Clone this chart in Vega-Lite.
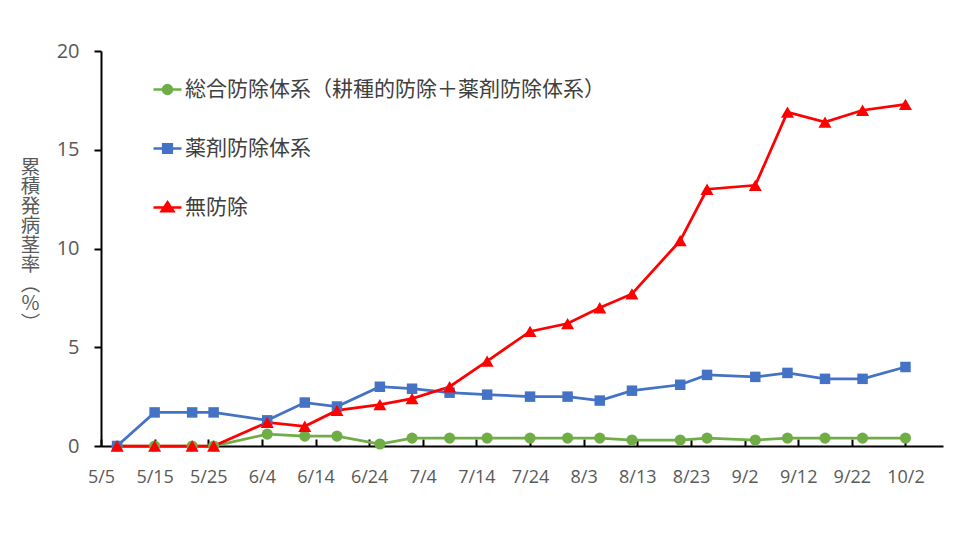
{
  "$schema": "https://vega.github.io/schema/vega-lite/v6.json",
  "width": 842,
  "height": 395,
  "autosize": {"type": "none"},
  "padding": {"left": 101, "top": 51, "right": 17, "bottom": 94},
  "background": "white",
  "config": {"view": {"stroke": null}, "font": "Open Sans"},
  "datasets": {
    "d": [
      {"date": "2020-05-08", "series": "総合防除体系（耕種的防除＋薬剤防除体系）", "value": 0},
      {"date": "2020-05-15", "series": "総合防除体系（耕種的防除＋薬剤防除体系）", "value": 0},
      {"date": "2020-05-22", "series": "総合防除体系（耕種的防除＋薬剤防除体系）", "value": 0},
      {"date": "2020-05-26", "series": "総合防除体系（耕種的防除＋薬剤防除体系）", "value": 0},
      {"date": "2020-06-05", "series": "総合防除体系（耕種的防除＋薬剤防除体系）", "value": 0.6},
      {"date": "2020-06-12", "series": "総合防除体系（耕種的防除＋薬剤防除体系）", "value": 0.5},
      {"date": "2020-06-18", "series": "総合防除体系（耕種的防除＋薬剤防除体系）", "value": 0.5},
      {"date": "2020-06-26", "series": "総合防除体系（耕種的防除＋薬剤防除体系）", "value": 0.1},
      {"date": "2020-07-02", "series": "総合防除体系（耕種的防除＋薬剤防除体系）", "value": 0.4},
      {"date": "2020-07-09", "series": "総合防除体系（耕種的防除＋薬剤防除体系）", "value": 0.4},
      {"date": "2020-07-16", "series": "総合防除体系（耕種的防除＋薬剤防除体系）", "value": 0.4},
      {"date": "2020-07-24", "series": "総合防除体系（耕種的防除＋薬剤防除体系）", "value": 0.4},
      {"date": "2020-07-31", "series": "総合防除体系（耕種的防除＋薬剤防除体系）", "value": 0.4},
      {"date": "2020-08-06", "series": "総合防除体系（耕種的防除＋薬剤防除体系）", "value": 0.4},
      {"date": "2020-08-12", "series": "総合防除体系（耕種的防除＋薬剤防除体系）", "value": 0.3},
      {"date": "2020-08-21", "series": "総合防除体系（耕種的防除＋薬剤防除体系）", "value": 0.3},
      {"date": "2020-08-26", "series": "総合防除体系（耕種的防除＋薬剤防除体系）", "value": 0.4},
      {"date": "2020-09-04", "series": "総合防除体系（耕種的防除＋薬剤防除体系）", "value": 0.3},
      {"date": "2020-09-10", "series": "総合防除体系（耕種的防除＋薬剤防除体系）", "value": 0.4},
      {"date": "2020-09-17", "series": "総合防除体系（耕種的防除＋薬剤防除体系）", "value": 0.4},
      {"date": "2020-09-24", "series": "総合防除体系（耕種的防除＋薬剤防除体系）", "value": 0.4},
      {"date": "2020-10-02", "series": "総合防除体系（耕種的防除＋薬剤防除体系）", "value": 0.4},
      {"date": "2020-05-08", "series": "薬剤防除体系", "value": 0},
      {"date": "2020-05-15", "series": "薬剤防除体系", "value": 1.7},
      {"date": "2020-05-22", "series": "薬剤防除体系", "value": 1.7},
      {"date": "2020-05-26", "series": "薬剤防除体系", "value": 1.7},
      {"date": "2020-06-05", "series": "薬剤防除体系", "value": 1.3},
      {"date": "2020-06-12", "series": "薬剤防除体系", "value": 2.2},
      {"date": "2020-06-18", "series": "薬剤防除体系", "value": 2.0},
      {"date": "2020-06-26", "series": "薬剤防除体系", "value": 3.0},
      {"date": "2020-07-02", "series": "薬剤防除体系", "value": 2.9},
      {"date": "2020-07-09", "series": "薬剤防除体系", "value": 2.7},
      {"date": "2020-07-16", "series": "薬剤防除体系", "value": 2.6},
      {"date": "2020-07-24", "series": "薬剤防除体系", "value": 2.5},
      {"date": "2020-07-31", "series": "薬剤防除体系", "value": 2.5},
      {"date": "2020-08-06", "series": "薬剤防除体系", "value": 2.3},
      {"date": "2020-08-12", "series": "薬剤防除体系", "value": 2.8},
      {"date": "2020-08-21", "series": "薬剤防除体系", "value": 3.1},
      {"date": "2020-08-26", "series": "薬剤防除体系", "value": 3.6},
      {"date": "2020-09-04", "series": "薬剤防除体系", "value": 3.5},
      {"date": "2020-09-10", "series": "薬剤防除体系", "value": 3.7},
      {"date": "2020-09-17", "series": "薬剤防除体系", "value": 3.4},
      {"date": "2020-09-24", "series": "薬剤防除体系", "value": 3.4},
      {"date": "2020-10-02", "series": "薬剤防除体系", "value": 4.0},
      {"date": "2020-05-08", "series": "無防除", "value": 0},
      {"date": "2020-05-15", "series": "無防除", "value": 0},
      {"date": "2020-05-22", "series": "無防除", "value": 0},
      {"date": "2020-05-26", "series": "無防除", "value": 0},
      {"date": "2020-06-05", "series": "無防除", "value": 1.2},
      {"date": "2020-06-12", "series": "無防除", "value": 1.0},
      {"date": "2020-06-18", "series": "無防除", "value": 1.8},
      {"date": "2020-06-26", "series": "無防除", "value": 2.1},
      {"date": "2020-07-02", "series": "無防除", "value": 2.4},
      {"date": "2020-07-09", "series": "無防除", "value": 3.0},
      {"date": "2020-07-16", "series": "無防除", "value": 4.3},
      {"date": "2020-07-24", "series": "無防除", "value": 5.8},
      {"date": "2020-07-31", "series": "無防除", "value": 6.2},
      {"date": "2020-08-06", "series": "無防除", "value": 7.0},
      {"date": "2020-08-12", "series": "無防除", "value": 7.7},
      {"date": "2020-08-21", "series": "無防除", "value": 10.4},
      {"date": "2020-08-26", "series": "無防除", "value": 13.0},
      {"date": "2020-09-04", "series": "無防除", "value": 13.2},
      {"date": "2020-09-10", "series": "無防除", "value": 16.9},
      {"date": "2020-09-17", "series": "無防除", "value": 16.4},
      {"date": "2020-09-24", "series": "無防除", "value": 17.0},
      {"date": "2020-10-02", "series": "無防除", "value": 17.3}
    ]
  },
  "data": {"name": "d"},
  "encoding": {
    "x": {
      "field": "date",
      "type": "temporal",
      "scale": {
        "type": "utc",
        "domain": [
          {"year": 2020, "month": 5, "date": 5, "utc": true},
          {"year": 2020, "month": 10, "date": 9, "utc": true}
        ]
      },
      "axis": {
        "title": null,
        "grid": false,
        "format": "%-m/%-d",
        "values": [
          {"year": 2020, "month": 5, "date": 5, "utc": true},
          {"year": 2020, "month": 5, "date": 15, "utc": true},
          {"year": 2020, "month": 5, "date": 25, "utc": true},
          {"year": 2020, "month": 6, "date": 4, "utc": true},
          {"year": 2020, "month": 6, "date": 14, "utc": true},
          {"year": 2020, "month": 6, "date": 24, "utc": true},
          {"year": 2020, "month": 7, "date": 4, "utc": true},
          {"year": 2020, "month": 7, "date": 14, "utc": true},
          {"year": 2020, "month": 7, "date": 24, "utc": true},
          {"year": 2020, "month": 8, "date": 3, "utc": true},
          {"year": 2020, "month": 8, "date": 13, "utc": true},
          {"year": 2020, "month": 8, "date": 23, "utc": true},
          {"year": 2020, "month": 9, "date": 2, "utc": true},
          {"year": 2020, "month": 9, "date": 12, "utc": true},
          {"year": 2020, "month": 9, "date": 22, "utc": true},
          {"year": 2020, "month": 10, "date": 2, "utc": true}
        ],
        "domainColor": "black",
        "domainWidth": 2,
        "tickColor": "black",
        "tickWidth": 2,
        "tickSize": -7,
        "labelFont": "Open Sans",
        "labelFontSize": 18,
        "labelColor": "#595959",
        "labelBaseline": "alphabetic",
        "labelPadding": 43,
        "labelDx": 3,
        "labelOverlap": false,
        "labelFlush": false,
        "encode": {
          "ticks": {"y": {"value": -7}, "y2": {"value": 0}}
        }
      }
    },
    "y": {
      "field": "value",
      "type": "quantitative",
      "scale": {"domain": [0, 20], "nice": false},
      "axis": {
        "values": [0, 5, 10, 15, 20],
        "grid": false,
        "domainColor": "black",
        "domainWidth": 2,
        "tickColor": "black",
        "tickWidth": 2,
        "tickSize": 7,
        "labelFont": "Open Sans",
        "labelFontSize": 20,
        "labelColor": "#595959",
        "labelPadding": 15,
        "title": ["累", "積", "発", "病", "茎", "率", "︵", "%", "︶"],
        "titleAngle": 0,
        "titleFont": "Noto Sans CJK JP",
        "titleFontSize": 19.5,
        "titleFontWeight": "normal",
        "titleColor": "#595959",
        "titleAlign": "center",
        "titleBaseline": "top",
        "titleLineHeight": 19.5,
        "titleX": -71,
        "titleY": 107,
        "encode": {
          "ticks": {"x": {"value": 7}}
        }
      }
    },
    "color": {
      "field": "series",
      "type": "nominal",
      "scale": {
        "domain": ["総合防除体系（耕種的防除＋薬剤防除体系）", "薬剤防除体系", "無防除"],
        "range": ["#70ad47", "#4472c4", "#ff0000"]
      },
      "legend": {
        "title": null,
        "orient": "none",
        "legendX": 56,
        "legendY": 28,
        "labelFont": "Noto Sans CJK JP",
        "labelFontSize": 21,
        "labelColor": "#404040",
        "labelLimit": 0,
        "labelOffset": 7,
        "symbolSize": 196,
        "symbolStrokeWidth": 2.5,
        "symbolOpacity": 1,
        "rowPadding": 37,
        "padding": 0,
        "encode": {
          "symbols": {
            "update": {
              "shape": {"signal": "datum.index === 0 ? 'M-2,0H2M0.64,0A0.64,0.64,0,1,1,-0.64,0A0.64,0.64,0,1,1,0.64,0Z' : datum.index === 1 ? 'M-2,0H2M-0.62,-0.62H0.62V0.62H-0.62Z' : 'M-2,0H2M0,-0.75L0.85,0.55H-0.85Z'"},
              "fill": {"signal": "scale('color', datum.value)"},
              "stroke": {"signal": "scale('color', datum.value)"},
              "strokeWidth": {"value": 2.5}
            }
          }
        }
      }
    }
  },
  "layer": [
    {"mark": {"type": "line", "strokeWidth": 2.75}},
    {
      "transform": [{"filter": {"field": "series", "equal": "総合防除体系（耕種的防除＋薬剤防除体系）"}}],
      "mark": {"type": "point", "shape": "circle", "filled": true, "opacity": 1, "size": 125}
    },
    {
      "transform": [{"filter": {"field": "series", "equal": "薬剤防除体系"}}],
      "mark": {"type": "point", "shape": "square", "filled": true, "opacity": 1, "size": 110}
    },
    {
      "transform": [{"filter": {"field": "series", "equal": "無防除"}}],
      "mark": {"type": "point", "shape": "triangle-up", "filled": true, "opacity": 1, "size": 170}
    }
  ]
}
